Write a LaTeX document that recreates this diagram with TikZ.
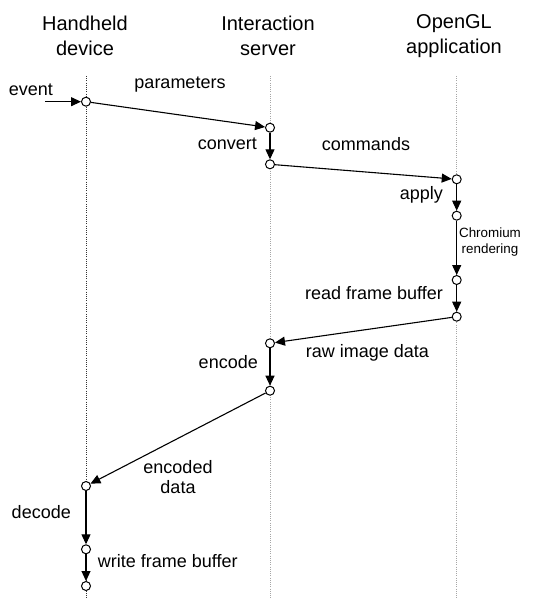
\documentclass[tikz,border=0pt]{standalone}
\usepackage{fontspec}
\setmainfont{Liberation Sans}
\usetikzlibrary{arrows.meta}

\begin{document}
\begin{tikzpicture}[
  x=1pt, y=-1pt,
  head/.style={align=center, font=\fontsize{20}{25}\selectfont, inner sep=0pt},
  life/.style={line width=0.6pt, dash pattern=on 0.8pt off 1.4pt},
  port/.style={draw, circle, fill=white, line width=1pt,
    inner sep=0pt, minimum size=9pt},
  lbl/.style={font=\fontsize{18}{20.6}\selectfont, inner sep=0pt, align=center},
  small/.style={font=\fontsize{13.4}{16.7}\selectfont, inner sep=0pt, align=center},
  every edge/.style={draw, line width=1.1pt,
    -{Triangle[length=10pt, width=9pt]}}
]
  \useasboundingbox (0,0) rectangle (544,599);

  % participants
  \node[head] (hand) at (85,36)  {Handheld\\device};
  \node[head] (serv) at (268,36) {Interaction\\server};
  \node[head] (ogl)  at (454,36) {OpenGL\\application};

  % lifelines
  \coordinate (hand top) at (86,76);    \coordinate (hand end) at (86,599);
  \coordinate (serv top) at (270,76);   \coordinate (serv end) at (270,599);
  \coordinate (ogl top)  at (456.7,76); \coordinate (ogl end)  at (456.7,599);
  \draw[life, black!80] (hand top) -- (hand end);
  \draw[life, gray!70]  (serv top) -- (serv end);
  \draw[life, gray!70]  (ogl top)  -- (ogl end);

  % activation points
  \node[port] (h1) at (86,101.7) {};
  \node[port] (h2) at (86,486)   {};
  \node[port] (h3) at (86,549.3) {};
  \node[port] (h4) at (86,586)   {};
  \node[port] (s1) at (270,127.7) {};
  \node[port] (s2) at (270,164.3) {};
  \node[port] (s3) at (270,343.3) {};
  \node[port] (s4) at (270,390.7) {};
  \node[port] (g1) at (456.7,179.3) {};
  \node[port] (g2) at (456.7,215.7) {};
  \node[port] (g3) at (456.7,280)   {};
  \node[port] (g4) at (456.7,316.7) {};

  \coordinate (ev) at (45,101.7);

  % messages
  \draw (ev) edge (h1);
  \draw (h1) edge (s1);
  \draw (s1) edge (s2);
  \draw (s2) edge (g1);
  \draw (g1) edge (g2);
  \draw (g2) edge (g3);
  \draw (g3) edge (g4);
  \draw (g4) edge (s3);
  \draw (s3) edge (s4);
  \draw (s4) edge (h2);
  \draw (h2) edge (h3);
  \draw (h3) edge (h4);

  % labels
  \node[lbl] (l-event)  at (30.8,89.3)  {event};
  \node[lbl] (l-param)  at (180,85)     {parameters};
  \node[lbl, anchor=east] (l-conv) at (257,144) {convert};
  \node[lbl] (l-cmd)    at (366,144)    {commands};
  \node[lbl, anchor=east] (l-apply) at (443,195) {apply};
  \node[small] (l-chrom) at (490,242)   {Chromium\\rendering};
  \node[lbl, anchor=east] (l-read) at (443,292.7) {read frame buffer};
  \node[lbl] (l-raw)    at (367.5,353.3) {raw image data};
  \node[lbl, anchor=east] (l-enc) at (258,361.7) {encode};
  \node[lbl] (l-encd)   at (178,477)    {encoded\\data};
  \node[lbl, anchor=east] (l-dec) at (71,512.3) {decode};
  \node[lbl, anchor=west] (l-write) at (97.7,560.7) {write frame buffer};
\end{tikzpicture}
\end{document}
